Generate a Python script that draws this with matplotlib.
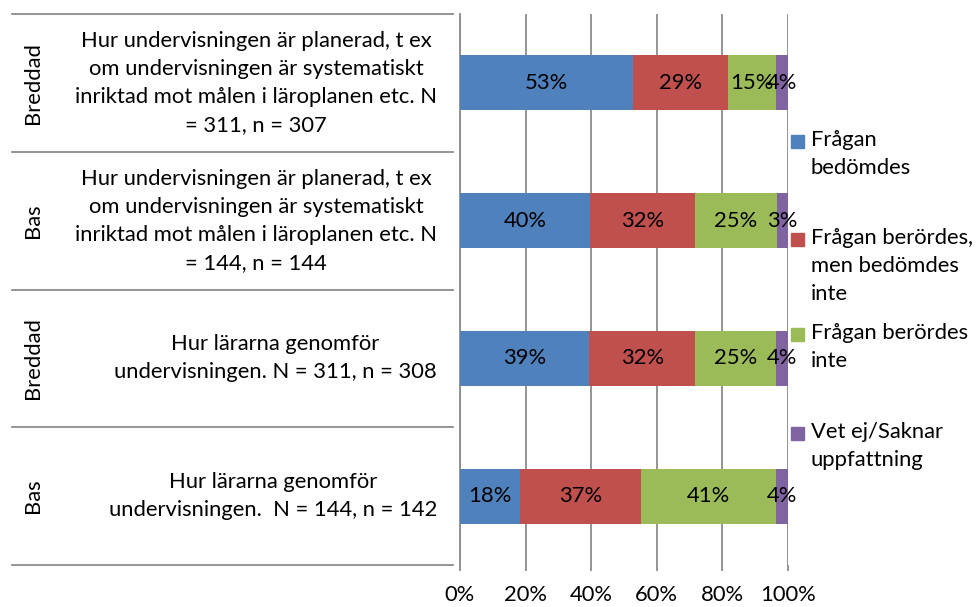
import matplotlib.pyplot as plt
from matplotlib.patches import Rectangle

plt.rcParams['font.family'] = ['Lato', 'DejaVu Sans']

groups = ["Breddad", "Bas", "Breddad", "Bas"]
questions = [
    "Hur undervisningen är planerad, t ex\nom undervisningen är systematiskt\ninriktad mot målen i läroplanen etc. N\n= 311, n = 307",
    "Hur undervisningen är planerad, t ex\nom undervisningen är systematiskt\ninriktad mot målen i läroplanen etc. N\n= 144, n = 144",
    "Hur lärarna genomför\nundervisningen. N = 311, n = 308",
    "Hur lärarna genomför\nundervisningen.  N = 144, n = 142",
]
series = [
    "Frågan\nbedömdes",
    "Frågan berördes,\nmen bedömdes\ninte",
    "Frågan berördes\ninte",
    "Vet ej/Saknar\nuppfattning",
]
bedomdes = [52.8, 39.6, 39.4, 18.2]
berordes_ej_bedomd = [28.9, 32.0, 32.3, 37.0]
berordes_inte = [14.7, 25.1, 24.7, 41.2]
vet_ej = [3.6, 3.3, 3.6, 3.6]
colors = ["#4F81BD", "#C0504D", "#9BBB59", "#8064A2"]
grey = "#8C8C8C"
fs = 15.8

W, H = 978, 607
fig = plt.figure(figsize=(W / 100, H / 100), dpi=100)
ax = fig.add_axes([460 / W, 42 / H, 328 / W, 551 / H])

ypos = [3, 2, 1, 0]
left = [0.0] * 4
for vals, col in zip([bedomdes, berordes_ej_bedomd, berordes_inte, vet_ej], colors):
    fr = [v / 100 for v in vals]
    bars = ax.barh(ypos, fr, left=left, height=0.4, color=col, zorder=3)
    for b, v, l in zip(bars, vals, left):
        ax.text(l + v / 200, b.get_y() + b.get_height() / 2, f"{v:.0f}%",
                ha="center", va="center", fontsize=fs, color="black", zorder=4)
    left = [l + f for l, f in zip(left, fr)]

ax.set_xlim(0, 1)
ax.set_ylim(-0.5, 3.5)
ax.set_xticks([0, 0.2, 0.4, 0.6, 0.8, 1.0])
ax.set_xticklabels([f"{int(t * 100)}%" for t in ax.get_xticks()], fontsize=fs)
ax.set_yticks([])
ax.tick_params(axis="x", direction="out", length=4.5, width=1.3, color=grey, pad=10)
ax.grid(axis="x", color=grey, lw=1.3, zorder=0)
for s in ["top", "bottom", "right"]:
    ax.spines[s].set_visible(False)
ax.spines["left"].set_color(grey)
ax.spines["left"].set_linewidth(1.3)

# category table on the left
tr = ax.get_yaxis_transform()
x0 = (12 - 460) / 328
for yb in [3.5, 2.5, 1.5, 0.5, -0.5]:
    ax.plot([x0, -0.02], [yb, yb], transform=tr, color=grey, lw=1.3, clip_on=False)
for y, g, q in zip(ypos, groups, questions):
    ax.text((33 - 460) / 328, y, g, transform=tr, rotation=90, ha="center",
            va="center", fontsize=fs)
    ax.text((437 - 460) / 328, y, q, transform=tr, ha="right", va="center",
            multialignment="center", fontsize=fs, linespacing=1.5)

# legend
leg_top = [135, 233, 328, 427]
for lab, col, yt in zip(series, colors, leg_top):
    fig.patches.append(Rectangle((791 / W, 1 - (yt + 13) / H), 13 / W, 13 / H,
                                 transform=fig.transFigure, color=col))
    fig.text(811 / W, 1 - (yt - 5) / H, lab, ha="left", va="top", fontsize=fs,
             linespacing=1.5)

fig.savefig("out.png", dpi=100)
